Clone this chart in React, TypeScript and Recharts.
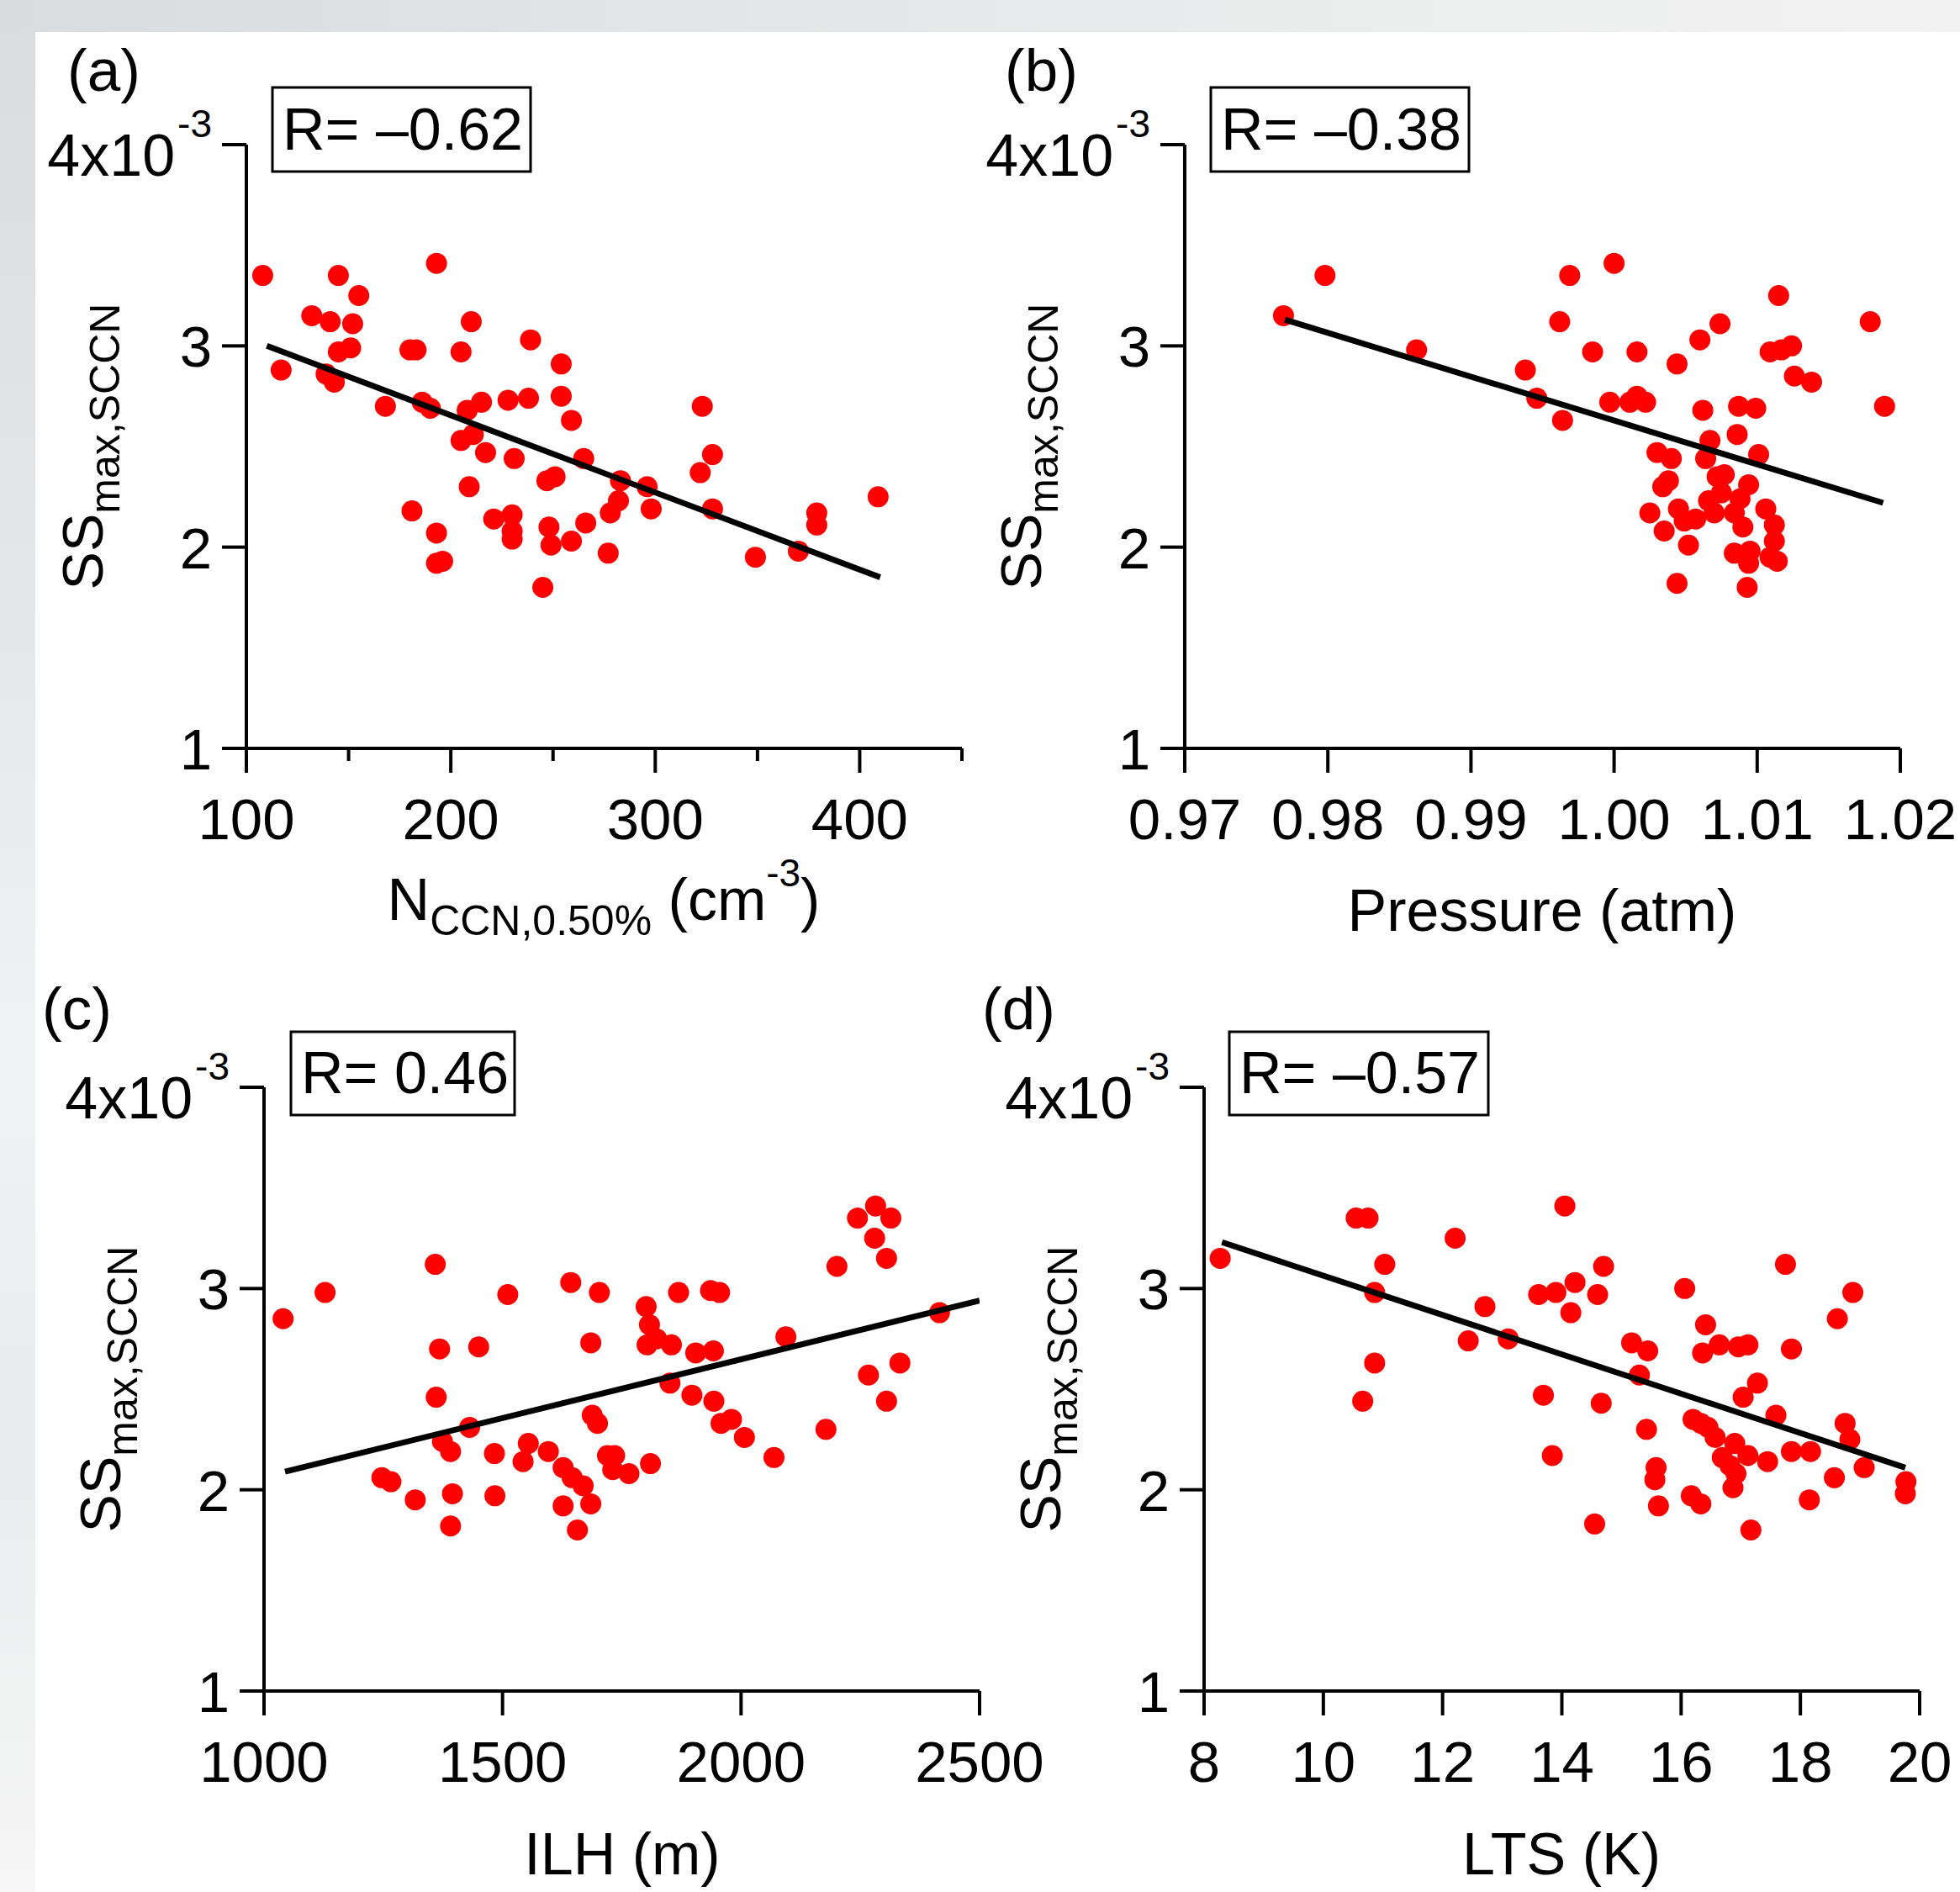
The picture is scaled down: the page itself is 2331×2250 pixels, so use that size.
import React from 'react';
import { ScatterChart, Scatter, XAxis, YAxis } from 'recharts';

const W = 2331;
const H = 2250;
const FONT = '"Liberation Sans", Arial, Helvetica, sans-serif';

// SSmax,SCCN values are in units of 1e-3
// (a) N_CCN,0.50% (cm^-3)
const nccnX = [108, 117, 132, 141, 145, 155, 152, 145, 151, 139, 143, 168, 180, 183, 186, 190, 193, 181, 193, 193, 196, 205, 210, 208, 215, 205, 211, 217, 209, 221, 230, 230, 230, 231, 228, 238, 239, 254, 254, 259, 247, 251, 248, 249, 245, 259, 266, 265, 277, 278, 282, 283, 296, 298, 323, 322, 328, 328, 349, 370, 379, 379, 409];
const nccnY = [3.35, 2.88, 3.15, 3.12, 3.35, 3.25, 3.11, 2.97, 2.99, 2.86, 2.82, 2.70, 2.98, 2.98, 2.72, 2.69, 3.41, 2.18, 2.07, 1.92, 1.93, 2.97, 3.12, 2.68, 2.72, 2.53, 2.56, 2.47, 2.30, 2.14, 2.16, 2.08, 2.04, 2.44, 2.73, 2.74, 3.03, 2.91, 2.75, 2.63, 2.33, 2.35, 2.10, 2.01, 1.80, 2.03, 2.12, 2.44, 1.97, 2.17, 2.23, 2.33, 2.30, 2.19, 2.70, 2.37, 2.46, 2.19, 1.95, 1.98, 2.17, 2.11, 2.25];
const nccnFitX = [110, 410];
const nccnFitY = [3.0, 1.85];

// (b) Pressure (atm)
const pressX = [0.9769, 0.9798, 0.9862, 0.9938, 0.9946, 0.9964, 0.9962, 0.9969, 0.9985, 1.0000, 0.9997, 1.0011, 1.0016, 1.0022, 1.0016, 1.0044, 1.0060, 1.0074, 1.0062, 1.0067, 1.0030, 1.0040, 1.0038, 1.0034, 1.0025, 1.0035, 1.0045, 1.0044, 1.0052, 1.0049, 1.0057, 1.0064, 1.0072, 1.0077, 1.0075, 1.0066, 1.0070, 1.0086, 1.0087, 1.0099, 1.0101, 1.0094, 1.0088, 1.0084, 1.0090, 1.0084, 1.0095, 1.0094, 1.0093, 1.0106, 1.0112, 1.0112, 1.0109, 1.0114, 1.0109, 1.0117, 1.0124, 1.0115, 1.0126, 1.0138, 1.0179, 1.0189];
const pressY = [3.15, 3.35, 2.98, 2.88, 2.74, 2.63, 3.12, 3.35, 2.97, 3.41, 2.72, 2.72, 2.75, 2.72, 2.97, 2.91, 3.03, 3.11, 2.68, 2.53, 2.47, 2.44, 2.33, 2.30, 2.17, 2.08, 2.19, 1.82, 2.01, 2.13, 2.14, 2.44, 2.35, 2.36, 2.27, 2.23, 2.17, 2.56, 2.70, 2.69, 2.46, 2.31, 2.24, 2.17, 2.10, 1.97, 1.98, 1.92, 1.80, 2.19, 2.11, 2.03, 1.95, 1.93, 2.97, 2.98, 3.00, 3.25, 2.85, 2.82, 3.12, 2.70];
const pressFitX = [0.977, 1.0188];
const pressFitY = [3.13, 2.22];

// (c) ILH (m)
const ilhX = [1040, 1128, 1247, 1266, 1317, 1359, 1368, 1361, 1374, 1391, 1395, 1391, 1431, 1450, 1483, 1484, 1511, 1543, 1554, 1596, 1627, 1627, 1643, 1646, 1669, 1657, 1685, 1685, 1703, 1688, 1699, 1720, 1735, 1731, 1765, 1810, 1801, 1808, 1803, 1823, 1854, 1851, 1869, 1897, 1905, 1936, 1955, 1942, 1943, 1958, 1980, 2007, 2069, 2094, 2178, 2201, 2244, 2282, 2314, 2280, 2305, 2267, 2305, 2333, 2416];
const ilhY = [2.85, 2.98, 2.06, 2.04, 1.95, 3.12, 2.70, 2.46, 2.24, 2.19, 1.98, 1.82, 2.31, 2.71, 2.18, 1.97, 2.97, 2.14, 2.23, 2.19, 2.11, 1.92, 3.03, 2.06, 2.02, 1.80, 1.93, 2.73, 2.98, 2.37, 2.33, 2.17, 2.17, 2.10, 2.08, 2.13, 2.91, 2.82, 2.72, 2.75, 2.72, 2.53, 2.98, 2.47, 2.68, 2.99, 2.98, 2.69, 2.44, 2.33, 2.35, 2.26, 2.16, 2.76, 2.30, 3.11, 3.35, 3.41, 3.35, 3.25, 3.15, 2.57, 2.44, 2.63, 2.88];
const ilhFitX = [1044, 2500];
const ilhFitY = [2.09, 2.94];

// (d) LTS (K)
const ltsX = [8.27, 10.55, 10.75, 11.03, 10.86, 10.86, 10.66, 12.21, 12.71, 12.43, 13.10, 13.61, 13.90, 14.05, 14.22, 14.15, 14.60, 14.70, 13.69, 13.84, 14.66, 14.55, 15.17, 15.44, 15.30, 15.42, 15.58, 15.56, 15.62, 16.06, 16.41, 16.36, 16.64, 16.96, 17.12, 17.28, 17.04, 16.20, 16.33, 16.45, 16.57, 16.69, 16.82, 16.90, 16.92, 16.87, 17.12, 17.45, 16.17, 16.33, 17.17, 17.59, 17.75, 17.85, 17.85, 18.17, 18.15, 18.57, 18.62, 18.88, 18.75, 18.83, 19.07, 19.77, 19.76];
const ltsY = [3.15, 3.35, 3.35, 3.12, 2.98, 2.63, 2.44, 3.25, 2.91, 2.74, 2.75, 2.97, 2.98, 3.41, 3.03, 2.88, 2.97, 3.11, 2.47, 2.17, 2.43, 1.83, 2.73, 2.69, 2.57, 2.30, 2.11, 2.05, 1.92, 3.00, 2.82, 2.68, 2.72, 2.71, 2.72, 2.53, 2.46, 2.35, 2.33, 2.31, 2.26, 2.16, 2.12, 2.23, 2.08, 2.01, 2.17, 2.14, 1.97, 1.93, 1.80, 2.37, 3.12, 2.70, 2.19, 2.19, 1.95, 2.06, 2.85, 2.98, 2.33, 2.25, 2.11, 2.04, 1.98];
const ltsFitX = [8.30, 19.76];
const ltsFitY = [3.23, 2.11];

// ticks
const yTicks = [1, 2, 3, 4];
const nccnTicks = [100, 150, 200, 250, 300, 350, 400, 450];
const pressTicks = [0.97, 0.98, 0.99, 1.0, 1.01, 1.02];
const ilhTicks = [1000, 1500, 2000, 2500];
const ltsTicks = [8, 10, 12, 14, 16, 18, 20];

const panelLetters = ['(a)', '(b)', '(c)', '(d)'];
const rLabels = ['R= \u20130.62', 'R= \u20130.38', 'R= 0.46', 'R= \u20130.57'];

type Pt = { x: number; y: number };
const zip = (xs: number[], ys: number[]): Pt[] => xs.map((x, i) => ({ x, y: ys[i] }));

interface PanelCfg {
  points: Pt[];
  fit: Pt[];
  left: number;
  top: number;
  right: number;
  bottom: number;
  xDomain: [number, number];
  xTicks: number[];
  xMajor: (v: number) => boolean;
  xFmt: (v: number) => string;
}

const panels: PanelCfg[] = [
  {
    points: zip(nccnX, nccnY), fit: zip(nccnFitX, nccnFitY),
    left: 293, top: 172, right: 1144, bottom: 890,
    xDomain: [100, 450], xTicks: nccnTicks,
    xMajor: (v) => v % 100 === 0, xFmt: (v) => String(v),
  },
  {
    points: zip(pressX, pressY), fit: zip(pressFitX, pressFitY),
    left: 1409, top: 172, right: 2260, bottom: 890,
    xDomain: [0.97, 1.02], xTicks: pressTicks,
    xMajor: () => true, xFmt: (v) => v.toFixed(2),
  },
  {
    points: zip(ilhX, ilhY), fit: zip(ilhFitX, ilhFitY),
    left: 314, top: 1293, right: 1165, bottom: 2011,
    xDomain: [1000, 2500], xTicks: ilhTicks,
    xMajor: () => true, xFmt: (v) => String(v),
  },
  {
    points: zip(ltsX, ltsY), fit: zip(ltsFitX, ltsFitY),
    left: 1432, top: 1293, right: 2283, bottom: 2011,
    xDomain: [8, 20], xTicks: ltsTicks,
    xMajor: () => true, xFmt: (v) => String(v),
  },
];

const TICK_FS = 69;

const makeXTick = (cfg: PanelCfg) => (props: any) => {
  const { x, y, payload } = props;
  const v = payload.value as number;
  const major = cfg.xMajor(v);
  return (
    <g>
      <line x1={x} x2={x} y1={y} y2={y + (major ? 29 : 15)} stroke="#000" strokeWidth={4} />
      {major && (
        <text x={x} y={y + 108} textAnchor="middle" fontSize={TICK_FS} fontFamily={FONT} fill="#000">
          {cfg.xFmt(v)}
        </text>
      )}
    </g>
  );
};

const renderYTick = (props: any) => {
  const { x, y, payload } = props;
  const v = payload.value as number;
  return (
    <g>
      <line x1={x - 29} x2={x} y1={y} y2={y} stroke="#000" strokeWidth={4} />
      {v === 4 ? (
        <text x={x - 41} y={y + 37} textAnchor="end" fontSize={TICK_FS + 1} fontFamily={FONT} fill="#000">
          4x10
          <tspan fontSize={46} dy={-46} dx={3}>-3</tspan>
        </text>
      ) : (
        <text x={x - 41} y={y + 25} textAnchor="end" fontSize={TICK_FS} fontFamily={FONT} fill="#000">
          {v}
        </text>
      )}
    </g>
  );
};

const Dot = (p: any) => <circle cx={p.cx} cy={p.cy} r={12.5} fill="#ff0000" />;
const NoShape = () => <g />;

function Panel({ cfg }: { cfg: PanelCfg }) {
  const xAxisH = 10;
  return (
    <div style={{ position: 'absolute', left: 0, top: 0 }}>
      <ScatterChart
        width={W}
        height={H}
        margin={{ top: cfg.top, right: W - cfg.right, bottom: H - cfg.bottom - xAxisH, left: 0 }}
      >
        <XAxis
          type="number"
          dataKey="x"
          domain={cfg.xDomain}
          ticks={cfg.xTicks}
          interval={0}
          height={xAxisH}
          tickSize={0}
          tickMargin={0}
          tickLine={false}
          allowDataOverflow
          axisLine={{ stroke: '#000', strokeWidth: 4 }}
          tick={makeXTick(cfg)}
        />
        <YAxis
          type="number"
          dataKey="y"
          domain={[1, 4]}
          ticks={yTicks}
          interval={0}
          width={cfg.left}
          tickSize={0}
          tickMargin={0}
          tickLine={false}
          allowDataOverflow
          axisLine={{ stroke: '#000', strokeWidth: 4 }}
          tick={renderYTick}
        />
        <Scatter data={cfg.points} shape={Dot} isAnimationActive={false} />
        <Scatter
          data={cfg.fit}
          line={{ stroke: '#000', strokeWidth: 7 }}
          shape={NoShape}
          isAnimationActive={false}
        />
      </ScatterChart>
    </div>
  );
}

const letterPos = [
  { x: 80, y: 108 },
  { x: 1195, y: 108 },
  { x: 50, y: 1224 },
  { x: 1168, y: 1224 },
];
const rBoxes = [
  { x: 324, y: 104, w: 307, h: 100, tx: 336, ty: 178 },
  { x: 1440, y: 104, w: 307, h: 100, tx: 1452, ty: 178 },
  { x: 346, y: 1227, w: 266, h: 99, tx: 358, ty: 1300 },
  { x: 1462, y: 1227, w: 308, h: 99, tx: 1474, ty: 1300 },
];
const yTitlePos = [
  { x: 122, y: 531 },
  { x: 1238, y: 531 },
  { x: 143, y: 1652 },
  { x: 1261, y: 1652 },
];

function Overlay() {
  return (
    <svg
      width={W}
      height={H}
      style={{ position: 'absolute', left: 0, top: 0, pointerEvents: 'none' }}
      fontFamily={FONT}
    >
      {letterPos.map((p, i) => (
        <text key={'l' + i} x={p.x} y={p.y} fontSize={71} fill="#000">{panelLetters[i]}</text>
      ))}
      {rBoxes.map((b, i) => (
        <g key={'r' + i}>
          <rect x={b.x} y={b.y} width={b.w} height={b.h} fill="#fff" stroke="#000" strokeWidth={3} />
          <text x={b.tx} y={b.ty} fontSize={70} fill="#000">{rLabels[i]}</text>
        </g>
      ))}
      {yTitlePos.map((p, i) => (
        <text
          key={'y' + i}
          transform={`translate(${p.x},${p.y}) rotate(-90)`}
          textAnchor="middle"
          fontSize={68}
          fill="#000"
        >
          SS<tspan fontSize={50} dy={20}>max,SCCN</tspan>
        </text>
      ))}
      <text x={718} y={1094} textAnchor="middle" fontSize={70} fill="#000" style={{ whiteSpace: 'pre' }}>
        N<tspan fontSize={50} dy={18}>CCN,0.50%</tspan>
        <tspan dy={-18}> (cm</tspan>
        <tspan fontSize={46} dy={-40}>-3</tspan>
        <tspan dy={40}>)</tspan>
      </text>
      <text x={1834} y={1107} textAnchor="middle" fontSize={70} fill="#000">Pressure (atm)</text>
      <text x={740} y={2229} textAnchor="middle" fontSize={70} fill="#000">ILH (m)</text>
      <text x={1857} y={2229} textAnchor="middle" fontSize={70} fill="#000">LTS (K)</text>
    </svg>
  );
}

export default function App() {
  return (
    <div
      style={{
        position: 'absolute',
        left: 0,
        top: 0,
        width: W,
        height: H,
        overflow: 'hidden',
        background: 'linear-gradient(90deg, #d9dcdf 0%, #e4e6e8 40%, #eceded 70%, #f2f2f2 100%)',
        fontFamily: FONT,
      }}
    >
      <div
        style={{
          position: 'absolute',
          left: 0,
          top: 38,
          width: 42,
          bottom: 0,
          background: 'linear-gradient(180deg, #dadde0 0%, #e6e8ea 35%, #f1f2f3 55%, #e9ebec 75%, #f6f6f6 100%)',
        }}
      />
      <div style={{ position: 'absolute', left: 42, top: 38, right: 0, bottom: 0, background: '#ffffff' }} />
      {panels.map((cfg, i) => (
        <Panel key={i} cfg={cfg} />
      ))}
      <Overlay />
    </div>
  );
}
